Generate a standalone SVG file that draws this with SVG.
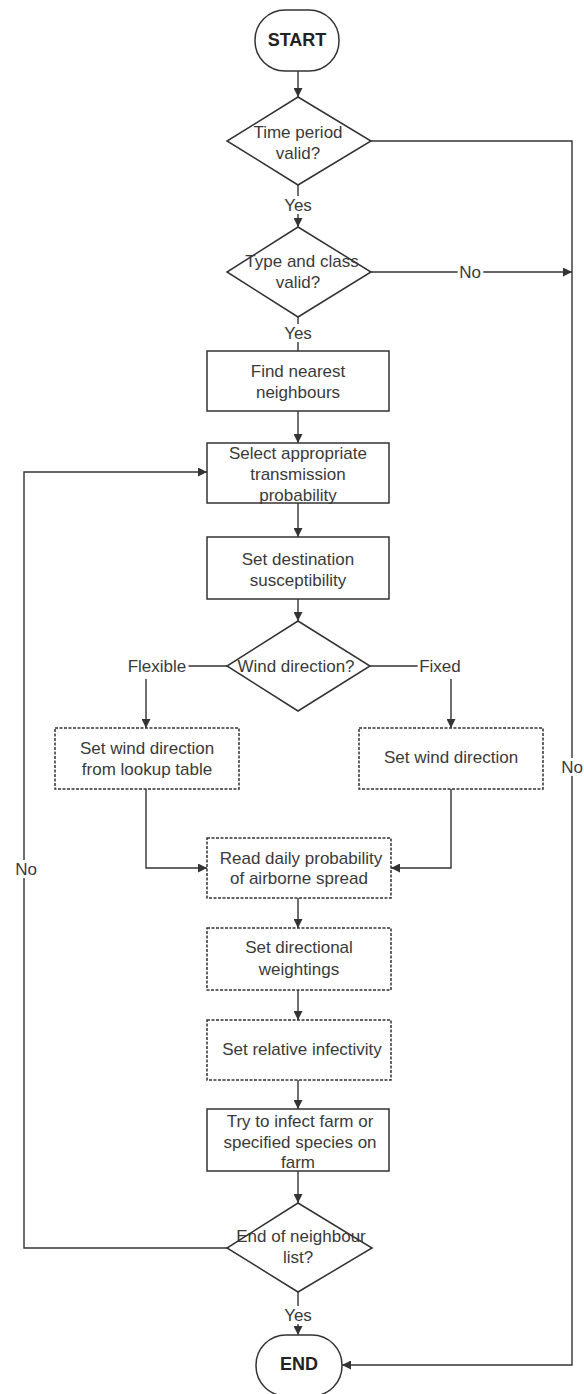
<svg xmlns="http://www.w3.org/2000/svg" width="584" height="1394" viewBox="0 0 584 1394">
<style>
.s{fill:#fff;stroke:#333;stroke-width:1.5}
.d{fill:#fff;stroke:#333;stroke-width:1.5;stroke-dasharray:3 1.5}
.t{font-family:"Liberation Sans",Arial,sans-serif;font-size:17px;fill:#3a3a3a;text-anchor:middle;dominant-baseline:central}
.b{font-weight:bold;font-size:18px;fill:#222}
.l{font-family:"Liberation Sans",Arial,sans-serif;font-size:17px;fill:#3a3a3a;text-anchor:middle;dominant-baseline:central;stroke:#fff;stroke-width:6;paint-order:stroke}
.c{fill:none;stroke:#333;stroke-width:1.4}
</style>
<defs>
<marker id="ah" markerUnits="userSpaceOnUse" markerWidth="9" markerHeight="9" viewBox="0 0 10 10" refX="10" refY="5" orient="auto">
<path d="M0,0 L10,5 L0,10 z" fill="#333"/>
</marker>
</defs>
<rect width="584" height="1394" fill="#fff"/>
<g id="connectors">
<path class="c" d="M298,71 V97" marker-end="url(#ah)"/>
<path class="c" d="M298,185 V227" marker-end="url(#ah)"/>
<path class="c" d="M371,141 H572 V1365 H342" marker-end="url(#ah)"/>
<path class="c" d="M371,272 H572" marker-end="url(#ah)"/>
<path class="c" d="M298,317 V351"/>
<path class="c" d="M298,411 V443" marker-end="url(#ah)"/>
<path class="c" d="M298,503 V537" marker-end="url(#ah)"/>
<path class="c" d="M298,599 V621" marker-end="url(#ah)"/>
<path class="c" d="M227,666 H188"/>
<path class="c" d="M146,679 V728" marker-end="url(#ah)"/>
<path class="c" d="M370,666 H418"/>
<path class="c" d="M451,679 V728" marker-end="url(#ah)"/>
<path class="c" d="M146,789 V868 H207" marker-end="url(#ah)"/>
<path class="c" d="M451,789 V868 H391" marker-end="url(#ah)"/>
<path class="c" d="M298,898 V928" marker-end="url(#ah)"/>
<path class="c" d="M298,990 V1020" marker-end="url(#ah)"/>
<path class="c" d="M298,1080 V1109" marker-end="url(#ah)"/>
<path class="c" d="M298,1171 V1203" marker-end="url(#ah)"/>
<path class="c" d="M227,1248 H24 V472 H207" marker-end="url(#ah)"/>
<path class="c" d="M298,1292 V1335" marker-end="url(#ah)"/>
<text class="l" x="298" y="205">Yes</text>
<text class="l" x="470" y="272">No</text>
<text class="l" x="298" y="333">Yes</text>
<text class="l" x="157" y="666">Flexible</text>
<text class="l" x="440" y="666">Fixed</text>
<text class="l" x="572" y="767">No</text>
<text class="l" x="26" y="869">No</text>
<text class="l" x="298" y="1315">Yes</text>
</g>
<g id="start">
<rect class="s" x="255" y="10" width="84" height="61" rx="30" ry="30"/>
<text class="t b" x="297" y="40">START</text>
</g>
<g id="time-valid">
<polygon class="s" points="298,97 371,141 298,185 227,141"/>
<text class="t" x="298" y="132">Time period</text>
<text class="t" x="298" y="153">valid?</text>
</g>
<g id="type-valid">
<polygon class="s" points="298,227 371,272 298,317 227,272"/>
<text class="t" x="302" y="261">Type and class</text>
<text class="t" x="298" y="282">valid?</text>
</g>
<g id="find-neighbours">
<rect class="s" x="207" y="351" width="182" height="60"/>
<text class="t" x="298" y="371">Find nearest</text>
<text class="t" x="298" y="392">neighbours</text>
</g>
<g id="select-prob">
<rect class="s" x="207" y="443" width="182" height="60"/>
<text class="t" x="298" y="453">Select appropriate</text>
<text class="t" x="298" y="474">transmission</text>
<text class="t" x="298" y="495">probability</text>
</g>
<g id="set-susceptibility">
<rect class="s" x="207" y="537" width="182" height="62"/>
<text class="t" x="298" y="559">Set destination</text>
<text class="t" x="298" y="580">susceptibility</text>
</g>
<g id="wind-direction">
<polygon class="s" points="298,621 370,666 298,711 227,666"/>
<text class="t" x="296" y="666">Wind direction?</text>
</g>
<g id="wind-lookup">
<rect class="d" x="55" y="728" width="184" height="61"/>
<text class="t" x="147" y="748">Set wind direction</text>
<text class="t" x="147" y="769">from lookup table</text>
</g>
<g id="wind-fixed">
<rect class="d" x="359" y="728" width="184" height="61"/>
<text class="t" x="451" y="757">Set wind direction</text>
</g>
<g id="read-prob">
<rect class="d" x="207" y="838" width="184" height="60"/>
<text class="t" x="301" y="858">Read daily probability</text>
<text class="t" x="299" y="878">of airborne spread</text>
</g>
<g id="directional">
<rect class="d" x="207" y="928" width="184" height="62"/>
<text class="t" x="299" y="947">Set directional</text>
<text class="t" x="299" y="969">weightings</text>
</g>
<g id="infectivity">
<rect class="d" x="207" y="1020" width="184" height="60"/>
<text class="t" x="302" y="1049">Set relative infectivity</text>
</g>
<g id="try-infect">
<rect class="s" x="207" y="1109" width="182" height="62"/>
<text class="t" x="300" y="1121">Try to infect farm or</text>
<text class="t" x="300" y="1142">specified species on</text>
<text class="t" x="298" y="1162">farm</text>
</g>
<g id="end-list">
<polygon class="s" points="298,1203 372,1248 298,1292 227,1248"/>
<text class="t" x="301" y="1236">End of neighbour</text>
<text class="t" x="298" y="1257">list?</text>
</g>
<g id="end">
<rect class="s" x="256" y="1335" width="86" height="61" rx="30" ry="30"/>
<text class="t b" x="299" y="1364">END</text>
</g>
</svg>
